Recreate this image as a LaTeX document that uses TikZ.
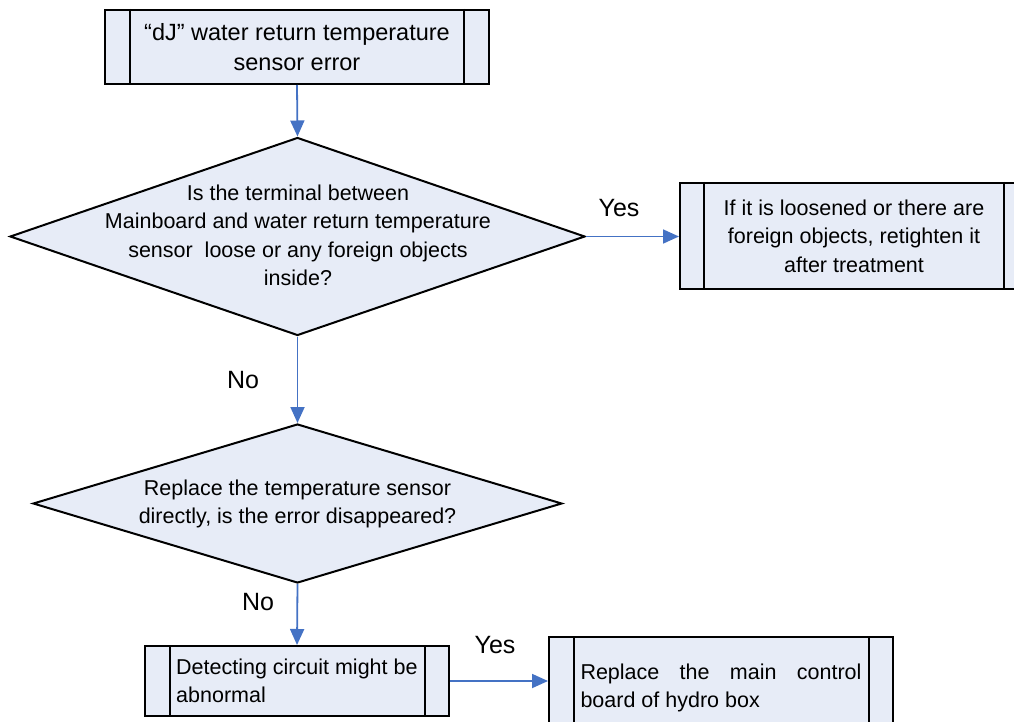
\documentclass[tikz,border=0pt]{standalone}
\usepackage{fontspec}
\setmainfont{Liberation Sans}
\usetikzlibrary{shapes.geometric,arrows.meta}
\definecolor{boxfill}{RGB}{231,236,247}
\definecolor{arrblue}{RGB}{68,114,196}
\begin{document}
\begin{tikzpicture}[x=1pt,y=-1pt,
  txt/.style={font=\fontsize{21.5}{28.5}\selectfont},
  bigtxt/.style={font=\fontsize{23.5}{30}\selectfont},
  proc/.style={draw=black, fill=boxfill, line width=2pt, rectangle, inner sep=0pt, txt},
  dec/.style={draw=black, fill=boxfill, line width=2pt, diamond, inner sep=0pt},
  arr/.style={draw=arrblue, line width=1.8pt, -{Triangle[length=16pt,width=14pt]}},
  lbl/.style={font=\fontsize{25}{30}\selectfont, inner sep=0pt},
  inner/.style={draw=black, line width=2pt}]
\useasboundingbox (0,0) rectangle (1014,722);

% top box
\node[proc, bigtxt, minimum width=384pt, minimum height=74pt, align=center] (top) at (297,47)
  {“dJ” water return temperature\\sensor error};
\draw[inner] ([xshift=26pt]top.north west) -- ([xshift=26pt]top.south west);
\draw[inner] ([xshift=-26pt]top.north east) -- ([xshift=-26pt]top.south east);

% diamond 1
\node[dec, minimum width=575pt, minimum height=198pt] (d1) at (297.5,236.5) {};
\node[txt, align=center, inner sep=0pt] (d1t) at (298,235.5)
  {Is the terminal between\\Mainboard and water return temperature\\sensor\ \ loose or any foreign objects\\inside?};

% right box
\node[proc, minimum width=348pt, minimum height=106pt, align=center] (rb) at (854,236)
  {If it is loosened or there are\\foreign objects, retighten it\\after treatment};
\draw[inner] ([xshift=25pt]rb.north west) -- ([xshift=25pt]rb.south west);
\draw[inner] ([xshift=-25pt]rb.north east) -- ([xshift=-25pt]rb.south east);

% diamond 2
\node[dec, minimum width=529pt, minimum height=159pt] (d2) at (297.5,503.5) {};
\node[txt, align=center, inner sep=0pt] (d2t) at (297.5,504)
  {Replace the temperature sensor\\directly, is the error disappeared?};

% bottom-left box
\node[proc, minimum width=304pt, minimum height=70pt] (bl) at (297,681) {};
\draw[inner] ([xshift=26pt]bl.north west) -- ([xshift=26pt]bl.south west);
\draw[inner] ([xshift=-25pt]bl.north east) -- ([xshift=-25pt]bl.south east);
\node[txt, align=left, inner sep=0pt, anchor=west] (blt) at (176,681)
  {Detecting circuit might be\\abnormal};

% bottom-right box
\node[proc, minimum width=344pt, minimum height=102pt, text width=281pt, align=justify] (br) at (721,688)
  {Replace the main control board of hydro box};
\draw[inner] ([xshift=26pt]br.north west) -- ([xshift=26pt]br.south west);
\draw[inner] ([xshift=-25pt]br.north east) -- ([xshift=-25pt]br.south east);

% connectors
\draw[arr] (top.south) -- (d1.north);
\draw[arr] (d1.east) -- (d1.east -| rb.west);
\draw[arr] (d1.south) -- (d2.north);
\draw[arr] (d2.south) -- (bl.north);
\draw[arr] (bl.east) -- (bl.east -| br.west);

% labels
\node[lbl] (y1) at (619,208) {Yes};
\node[lbl] (n1) at (243,380) {No};
\node[lbl] (n2) at (258,602) {No};
\node[lbl] (y2) at (495,645) {Yes};
\end{tikzpicture}
\end{document}
